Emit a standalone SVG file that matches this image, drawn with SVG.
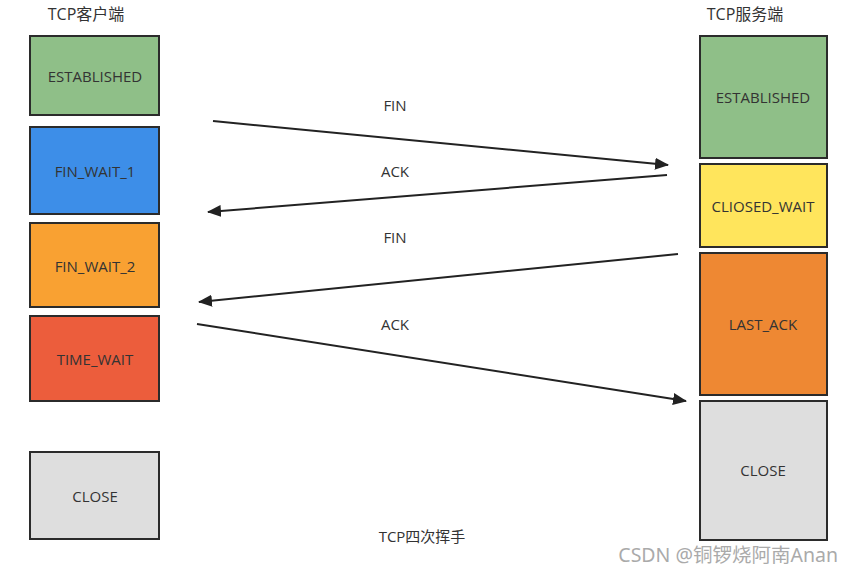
<svg xmlns="http://www.w3.org/2000/svg" width="853" height="574" viewBox="0 0 853 574">
<style>
.box{stroke:#2b2b2b;stroke-width:2}
.t{font-family:"Open Sans","Noto Sans","Noto Sans CJK SC",sans-serif;font-size:15px;fill:#333;text-anchor:middle;dominant-baseline:central}
.h{font-size:16px}
.c{stroke:#222;stroke-width:2;fill:none;marker-end:url(#ah)}
</style>
<defs>
<marker id="ah" markerWidth="14" markerHeight="12" refX="13" refY="6" orient="auto" markerUnits="userSpaceOnUse">
<path d="M0,0 L14,6 L0,12 Z" fill="#222"/>
</marker>
</defs>
<rect width="853" height="574" fill="#fff"/>
<text class="t h" x="86" y="14">TCP客户端</text>
<text class="t h" x="745" y="14">TCP服务端</text>
<g id="c-established"><rect class="box" x="30" y="36" width="129" height="79" fill="#8fbf88"/><text class="t" x="95" y="76">ESTABLISHED</text></g>
<g id="c-finwait1"><rect class="box" x="30" y="127" width="129" height="87" fill="#3d8ee8"/><text class="t" x="95" y="171">FIN_WAIT_1</text></g>
<g id="c-finwait2"><rect class="box" x="30" y="223" width="129" height="84" fill="#f9a132"/><text class="t" x="95" y="266">FIN_WAIT_2</text></g>
<g id="c-timewait"><rect class="box" x="30" y="316" width="129" height="85" fill="#ec5d3c"/><text class="t" x="95" y="359">TIME_WAIT</text></g>
<g id="c-close"><rect class="box" x="30" y="452" width="129" height="87" fill="#dedede"/><text class="t" x="95" y="496">CLOSE</text></g>
<g id="s-established"><rect class="box" x="700" y="36" width="127" height="122" fill="#8fbf88"/><text class="t" x="763" y="97">ESTABLISHED</text></g>
<g id="s-closewait"><rect class="box" x="700" y="164" width="127" height="83" fill="#ffe55c"/><text class="t" x="763" y="206">CLIOSED_WAIT</text></g>
<g id="s-lastack"><rect class="box" x="700" y="253" width="127" height="142" fill="#ee8833"/><text class="t" x="763" y="324">LAST_ACK</text></g>
<g id="s-close"><rect class="box" x="700" y="401" width="127" height="139" fill="#dedede"/><text class="t" x="763" y="470">CLOSE</text></g>
<g id="connectors">
<line class="c" x1="213" y1="121" x2="668" y2="165"/>
<line class="c" x1="667" y1="175" x2="208" y2="212"/>
<line class="c" x1="678" y1="254" x2="199" y2="302"/>
<line class="c" x1="197" y1="324" x2="686" y2="401"/>
<text class="t" x="395" y="105">FIN</text>
<text class="t" x="395" y="171">ACK</text>
<text class="t" x="395" y="237">FIN</text>
<text class="t" x="395" y="324">ACK</text>
</g>
<text class="t" x="422" y="536">TCP四次挥手</text>
<text x="838" y="562" style="font-family:'Noto Sans','Noto Sans CJK SC',sans-serif;font-size:19.5px;fill:#aaa;text-anchor:end">CSDN @铜锣烧阿南Anan</text>
</svg>
